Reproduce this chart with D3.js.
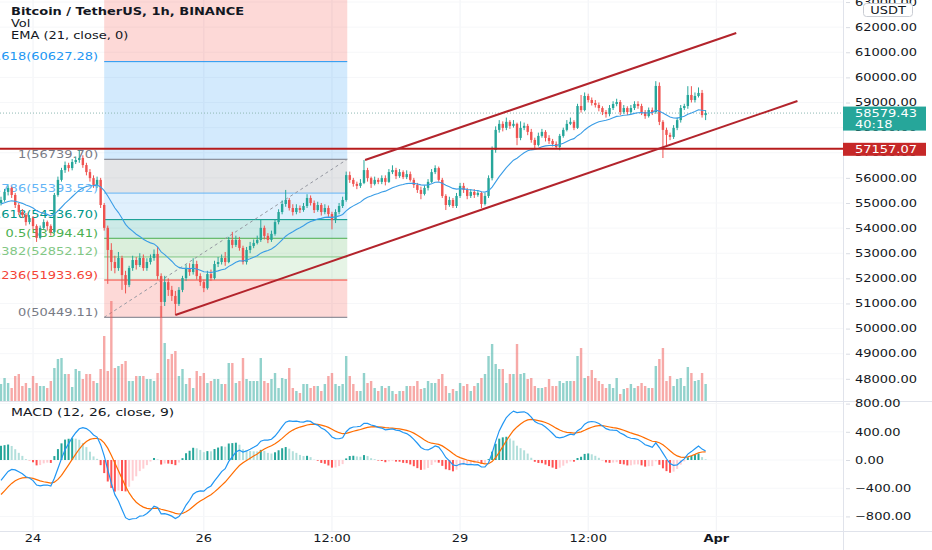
<!DOCTYPE html>
<html><head><meta charset="utf-8">
<script src="https://cdn.jsdelivr.net/npm/d3@7"></script>
<style>
html,body{margin:0;padding:0;background:#fff;overflow:hidden}
text{font-family:"DejaVu Sans",sans-serif;}
</style>
</head><body>
<svg id="c" width="932" height="550"></svg>
<script>
// ---------------- DATA (BTC/USDT 1h) ----------------
const firstOpen = 55000;
const closes = [
55120,55440,55600,55320,54920,54640,54520,54240,54400,54080,
53610,54010,54240,54080,53840,55320,55920,56310,56510,56390,
56630,56710,56790,56510,56230,55990,55720,55920,54920,54010,
53130,52650,52410,52810,52130,51740,52410,52730,52530,52810,
52410,52650,52810,52970,52090,51060,51850,51540,51300,50980,
51540,52010,52410,52250,52570,52090,51850,51610,52170,52010,
52570,52650,52810,52650,53530,53330,53530,53210,52650,53130,
53290,53410,53530,54010,53690,53530,53770,54240,54640,54960,
55120,54800,54640,54800,54720,54880,55200,55000,54720,54920,
54640,54800,54560,54320,54640,54880,55120,56110,55920,55760,
55680,55800,56310,55990,55760,55920,55840,55990,55840,56230,
56310,56070,56230,56030,56150,55920,55720,55520,55360,55600,
55840,56230,56390,55920,55280,54920,55120,54880,55280,55680,
55520,55280,55440,55320,55400,54960,55280,55990,57110,57910,
58150,57990,58230,58070,58150,57590,57990,58070,57830,57510,
57310,57670,57830,57590,57470,57350,57230,57670,57910,58150,
58230,57990,58860,58700,59260,59100,58980,58900,58780,58620,
58540,58780,58940,59020,58620,58780,58620,58780,58940,58860,
58620,58460,58700,58620,59660,58230,57910,57710,57630,57990,
58300,58780,58860,59300,59100,59260,59380,58500,58579.43];
const highs = [
55250,55560,55700,55650,55400,55000,54760,54600,54520,54480,
54150,54100,54350,54300,54150,55400,56050,56400,56650,56600,
56750,56850,57100,56900,56600,56350,56100,56050,56000,55000,
54100,53400,52900,53050,52900,52300,52500,52900,52850,53000,
52950,52800,52950,53150,53250,52200,52100,52000,51700,51500,
51650,52100,52550,52600,52800,52700,52200,51950,52300,52350,
52700,52850,52950,53050,53650,53850,53700,53650,53300,53250,
53450,53550,53700,54350,54100,53800,53900,54350,54750,55100,
55520,55200,54950,54950,54900,55000,55350,55300,55100,55050,
55000,54950,54900,54650,54750,55000,55250,56250,56250,56000,
55850,55950,56710,56400,56050,56050,56000,56100,56100,56350,
56500,56400,56350,56300,56300,56250,56000,55800,55650,55700,
55950,56350,56500,56450,56000,55350,55250,55200,55400,55800,
55800,55600,55550,55550,55500,55450,55400,56100,57250,58050,
58300,58250,58400,58300,58300,58200,58250,58200,58150,57950,
57600,57800,57950,57900,57700,57550,57450,57750,58000,58300,
58400,58300,58950,59300,59400,59350,59200,59100,59000,58850,
58700,58900,59050,59150,59100,58900,58850,58900,59050,59050,
58950,58700,58800,58800,59850,59800,58300,58000,57800,58100,
58400,58900,58950,59650,59650,59400,59600,59500,58700];
const lows = [
54900,55050,55300,55200,54800,54520,54400,54100,54150,53950,
53450,53550,53950,53900,53700,53800,55250,55850,56200,56250,
56300,56550,56600,56400,56100,55850,55600,55600,54800,53900,
51780,52300,52200,52300,51540,51400,51650,52300,52350,52450,
52300,52300,52550,52700,51950,50449,50900,51300,51100,50540,
50900,51450,51900,52100,52150,51950,51700,51450,51550,51900,
51950,52450,52550,52500,52600,53200,53250,53100,52550,52550,
53000,53200,53350,53450,53550,53400,53450,53700,54150,54550,
54850,54700,54500,54550,54600,54650,54800,54900,54600,54650,
54500,54550,54450,53950,54200,54550,54800,55050,55800,55650,
55550,55600,55750,55850,55600,55700,55750,55750,55700,55800,
56150,55950,56000,55950,55950,55850,55600,55400,55150,55300,
55500,55800,56150,55850,55200,54720,54850,54800,54800,55200,
55400,55150,55200,55200,55250,54800,54900,55200,55900,57000,
57800,57850,57900,57950,58000,57300,57500,57900,57700,57400,
57150,57250,57600,57450,57350,57250,57150,57100,57600,57850,
58100,57900,57950,58600,58650,59000,58880,58800,58650,58500,
58400,58450,58700,58850,58500,58550,58500,58550,58700,58750,
58500,58350,58400,58500,58550,58100,56790,57300,57500,57550,
57900,58200,58700,58750,59000,59000,59200,58400,58300];
const volumes = [
1530,2070,1620,1170,2250,2430,1350,1620,1170,2250,
1620,1350,1350,1170,1800,2970,3780,3870,2430,2430,
1260,2880,2700,1980,2430,2430,1800,1620,2880,5850,
2700,9000,2970,3150,3330,3600,1800,1800,2250,2250,
2250,1980,1980,1800,2520,8550,5220,3780,4230,4500,
2250,2880,1530,2070,1170,2700,2250,2520,1620,1800,
1980,1980,1530,1530,3420,3420,1620,1800,3870,1980,
1800,1800,1800,3870,1800,1620,1980,2520,1170,2070,
1980,2970,1170,900,720,1530,1530,1170,1350,1350,
900,1530,2250,2520,1530,1350,1530,4050,2250,1530,
900,900,2520,1620,1800,1170,900,1350,1170,1350,
900,630,900,900,1350,1350,1350,1800,1080,1170,
1800,1620,1620,1980,2430,1350,720,1080,900,1620,
1350,1530,900,1350,1620,2070,2430,4050,5130,3330,
2880,2880,1620,2430,2430,5130,2430,2520,1980,2070,
1350,1170,1170,1260,1980,1350,1350,1800,1620,1800,
1800,1800,4050,4770,2070,2250,2790,2070,1800,1530,
1170,1530,1170,2070,630,1080,1170,1530,1170,1350,
1620,1350,1170,1170,3150,3780,4770,1800,2250,1350,
1980,2070,1350,3060,2520,1800,1890,2520,1530];

const emaStart = 54950, ema12Start = 54900, ema26Start = 55230, signalStart = -540;

// fibonacci retracement drawing
const fibLevels = [0, 0.236, 0.382, 0.5, 0.618, 0.786, 1, 1.618, 2.618];
const fibPrices = [50449.11, 51933.69, 52852.12, 53594.41, 54336.70, 55393.52, 56739.70, 60627.28, 66918.86];
const fibColors = ['#787b86','#f44336','#81c784','#4caf50','#009688','#64b5f6','#787b86','#2196f3','#f44336'];
const fibBars = [29, 97.3];

// channel drawing (bar index, price) and horizontal level
const channelLower = [[49, 50540], [223.8, 59060]];
const channelUpper = [[102.3, 56711], [206.6, 61768]];
const hLevel = 57157.07;
const lastPrice = 58579.43;
const countdown = '40:18';

// axes
const priceTicks = [48000,49000,50000,51000,52000,53000,54000,55000,56000,57000,58000,59000,60000,61000,62000,63000];
const macdTicks = [-800, -400, 0, 400, 800];
const xTickBars = [9, 57, 93, 129, 165, 201];
const xTickLabels = ['24', '26', '12:00', '29', '12:00', 'Apr'];
const legendLines = ['Bitcoin / TetherUS, 1h, BINANCE', 'Vol', 'EMA (21, close, 0)'];
const macdTitle = 'MACD (12, 26, close, 9)';

// ---------------- CHART ----------------
const AX = 843, P1 = 401, P2 = 531, W = 932, H = 550, SX = 1.3;
const UP = '#26a69a', DN = '#ef5350';
const svg = d3.select('#c');

const x = d3.scaleLinear().domain([-0.28, 236.6]).range([0, AX]);
const y = d3.scaleLinear().domain([47117, 63081]).range([P1, 0]);
const yv = d3.scaleLinear().domain([0, 9000]).range([P1, 301]);
const ym = d3.scaleLinear().domain([-1007, 837]).range([P2, P1]);

const bars = closes.map((c, i) => ({i, o: i ? closes[i-1] : firstOpen, c, h: highs[i], l: lows[i], v: volumes[i]}));

// indicators
let e = emaStart, e12 = ema12Start, e26 = ema26Start, sig = signalStart;
bars.forEach((b, i) => {
  e += (b.c - e) * 2 / 22; b.ema = e;
  e12 += (b.c - e12) * 2 / 13; e26 += (b.c - e26) * 2 / 27;
  b.macd = e12 - e26; sig += (b.macd - sig) * 2 / 10; b.sig = sig; b.hist = b.macd - sig;
});
bars.forEach((b, i) => {
  const p = i ? bars[i-1].hist : b.hist;
  b.hcol = b.hist >= 0 ? (b.hist >= p ? '#26a69a' : '#b2dfdb') : (b.hist <= p ? '#ff5252' : '#ffcdd2');
});

const defs = svg.append('defs');
defs.append('clipPath').attr('id', 'cp1').append('rect').attr('x', 0).attr('y', 0).attr('width', AX).attr('height', P1);
defs.append('clipPath').attr('id', 'cp2').append('rect').attr('x', 0).attr('y', P1).attr('width', AX).attr('height', P2 - P1);

function txt(g, px, py, s, o = {}) {
  return g.append('text').attr('transform', `translate(${px},${py}) scale(${o.sx || SX},1)`)
    .attr('font-size', o.size || 10).attr('font-weight', o.weight || 'normal')
    .attr('fill', o.fill || '#131722').attr('text-anchor', o.anchor || 'start').text(s);
}

// grid
const grid = svg.append('g');
grid.selectAll('.vg').data(xTickBars).join('line').attr('x1', d => x(d)).attr('x2', d => x(d))
  .attr('y1', 0).attr('y2', P2).attr('stroke', '#f0f2f6');
grid.selectAll('.hg').data(priceTicks).join('line').attr('x1', 0).attr('x2', AX)
  .attr('y1', d => y(d)).attr('y2', d => y(d)).attr('stroke', '#f6f7f9');
grid.selectAll('.mg').data(macdTicks).join('line').attr('x1', 0).attr('x2', AX)
  .attr('y1', d => ym(d)).attr('y2', d => ym(d)).attr('stroke', '#f6f7f9');

// ---- price pane
const pp = svg.append('g').attr('clip-path', 'url(#cp1)');
const fx0 = x(fibBars[0]), fx1 = x(fibBars[1]);
const fib = fibLevels.map((l, k) => ({l, p: fibPrices[k], col: fibColors[k], k}));
pp.selectAll('.fr').data(fib.slice(1)).join('rect')
  .attr('x', fx0).attr('width', fx1 - fx0)
  .attr('y', d => y(d.p)).attr('height', d => y(fib[d.k-1].p) - y(d.p))
  .attr('fill', d => d.col).attr('fill-opacity', 0.2);
pp.selectAll('.fl').data(fib).join('line').attr('x1', fx0).attr('x2', fx1)
  .attr('y1', d => y(d.p)).attr('y2', d => y(d.p)).attr('stroke', d => d.col).attr('stroke-width', 1);
fib.filter(d => d.l < 2).forEach(d => {
  txt(pp, fx0 - 6, y(d.p) - 1.5, `${d.l}(${d.p.toFixed(2)})`, {anchor: 'end', fill: d.col});
});
pp.append('line').attr('x1', fx0).attr('y1', y(fibPrices[0])).attr('x2', fx1).attr('y2', y(fibPrices[6]))
  .attr('stroke', '#9598a1').attr('stroke-dasharray', '3,3');

// volume
pp.selectAll('.vb').data(bars).join('rect')
  .attr('x', d => x(d.i) - 1.2).attr('width', 2.4)
  .attr('y', d => yv(d.v)).attr('height', d => P1 - yv(d.v))
  .attr('fill', d => d.c >= d.o ? UP : DN).attr('fill-opacity', 0.5);

// last price dotted line
pp.append('line').attr('x1', 0).attr('x2', AX).attr('y1', y(lastPrice)).attr('y2', y(lastPrice))
  .attr('stroke', '#8fb8b4').attr('stroke-dasharray', '1,2');

// candles
pp.selectAll('.wk').data(bars).join('line')
  .attr('x1', d => x(d.i)).attr('x2', d => x(d.i)).attr('y1', d => y(d.h)).attr('y2', d => y(d.l))
  .attr('stroke', d => d.c >= d.o ? UP : DN).attr('stroke-width', 1);
pp.selectAll('.bd').data(bars).join('rect')
  .attr('x', d => x(d.i) - 1.2).attr('width', 2.4)
  .attr('y', d => y(Math.max(d.o, d.c))).attr('height', d => Math.max(0.8, Math.abs(y(d.o) - y(d.c))))
  .attr('fill', d => d.c >= d.o ? UP : DN);

// EMA
pp.append('path').datum(bars).attr('fill', 'none').attr('stroke', '#3a9de6').attr('stroke-width', 1.1)
  .attr('d', d3.line().x(d => x(d.i)).y(d => y(d.ema)));

// drawings
pp.append('line').attr('x1', 0).attr('x2', AX).attr('y1', y(hLevel)).attr('y2', y(hLevel))
  .attr('stroke', '#b71c1c').attr('stroke-width', 2);
[channelLower, channelUpper].forEach(c => {
  pp.append('line').attr('x1', x(c[0][0])).attr('y1', y(c[0][1])).attr('x2', x(c[1][0])).attr('y2', y(c[1][1]))
    .attr('stroke', '#b3242c').attr('stroke-width', 2);
});

// ---- MACD pane
const mp = svg.append('g').attr('clip-path', 'url(#cp2)');
mp.selectAll('.hb').data(bars).join('rect')
  .attr('x', d => x(d.i) - 1).attr('width', 2)
  .attr('y', d => Math.min(ym(d.hist), ym(0))).attr('height', d => Math.abs(ym(d.hist) - ym(0)))
  .attr('fill', d => d.hcol);
mp.append('path').datum(bars).attr('fill', 'none').attr('stroke', '#ff6d00').attr('stroke-width', 1.2)
  .attr('d', d3.line().x(d => x(d.i)).y(d => ym(d.sig)));
mp.append('path').datum(bars).attr('fill', 'none').attr('stroke', '#2196f3').attr('stroke-width', 1.2)
  .attr('d', d3.line().x(d => x(d.i)).y(d => ym(d.macd)));

// ---- frame lines
svg.append('line').attr('x1', AX + 0.5).attr('x2', AX + 0.5).attr('y1', 0).attr('y2', H).attr('stroke', '#e0e3eb');
svg.append('line').attr('x1', 0).attr('x2', W).attr('y1', P1 + 0.5).attr('y2', P1 + 0.5).attr('stroke', '#e0e3eb');
svg.append('line').attr('x1', 0).attr('x2', W).attr('y1', P2 + 0.5).attr('y2', P2 + 0.5).attr('stroke', '#e0e3eb');

// ---- axes
function styleRight(g) {
  g.select('.domain').remove();
  g.selectAll('.tick line').attr('stroke', '#d8dbe2').attr('x1', 3).attr('x2', 7);
  g.selectAll('.tick text').attr('x', 0).attr('transform', `translate(12,0) scale(${SX},1)`)
    .attr('font-size', 10).attr('fill', '#131722').attr('font-family', '"DejaVu Sans",sans-serif');
}
svg.append('g').attr('transform', `translate(${AX},0)`)
  .call(d3.axisRight(y).tickValues(priceTicks).tickSize(7).tickFormat(d => d.toFixed(2))).call(styleRight);
svg.append('g').attr('transform', `translate(${AX},0)`)
  .call(d3.axisRight(ym).tickValues(macdTicks).tickSize(7)
    .tickFormat(d => (d < 0 ? '\u2212' : '') + Math.abs(d).toFixed(2))).call(styleRight);
const xa = svg.append('g').attr('transform', `translate(0,${P2})`)
  .call(d3.axisBottom(x).tickValues(xTickBars).tickSize(0).tickPadding(4).tickFormat((d, i) => xTickLabels[i]));
xa.select('.domain').remove();
xa.selectAll('.tick text').attr('transform', `scale(${SX},1)`).attr('font-size', 10).attr('fill', '#131722')
  .attr('font-family', '"DejaVu Sans",sans-serif')
  .attr('x', 0).each(function(d, i) { if (xTickLabels[i] === 'Apr') d3.select(this).attr('font-weight', 'bold'); });
xa.selectAll('.tick').attr('transform', d => `translate(${x(d)},0)`);

// ---- price labels on axis
const ly = y(lastPrice);
svg.append('rect').attr('x', AX).attr('y', ly - 6.5).attr('width', 83).attr('height', 24).attr('fill', '#26a69a');
txt(svg, 855, ly + 3.8, lastPrice.toFixed(2), {fill: '#fff'});
txt(svg, 855, ly + 14.8, countdown, {fill: '#fff'});
const hy = y(hLevel);
svg.append('rect').attr('x', AX).attr('y', hy - 6).attr('width', 83).attr('height', 13).attr('fill', '#c62828');
txt(svg, 855, hy + 3.8, hLevel.toFixed(2), {fill: '#fff'});

// currency badge
svg.append('rect').attr('x', 863.5).attr('y', 3.5).attr('width', 49).attr('height', 13).attr('rx', 3)
  .attr('fill', '#fff').attr('stroke', '#c9ccd3');
txt(svg, 888, 13.6, 'USDT', {anchor: 'middle'});

// ---- legends
legendLines.forEach((s, i) => txt(svg, 11, 14.5 + i * 12.3, s, {weight: i === 0 ? 'bold' : 'normal'}));
txt(svg, 11, 415.5, macdTitle, {sx: 1.39});
</script>
</body></html>
